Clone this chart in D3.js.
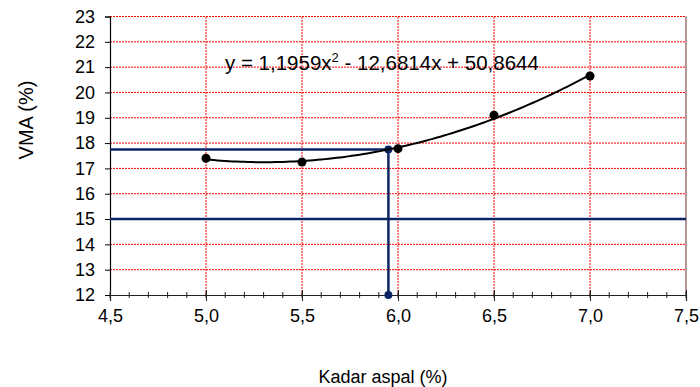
<!DOCTYPE html>
<html>
<head>
<meta charset="utf-8">
<script src="https://cdn.jsdelivr.net/npm/d3@7"></script>
<style>
  body { margin: 0; background: #fff; }
  text { font-family: "Liberation Sans", Arial, sans-serif; fill: #000; }
</style>
</head>
<body>
<div id="chart"></div>
<script>
// data
var kadar = [5.0, 5.5, 6.0, 6.5, 7.0];
var vma = [17.4, 17.25, 17.78, 19.1, 20.65];
var trendCoef = [1.1959, -12.6814, 50.8644];   // a x^2 + b x + c
var vmaMin = 15;
var optKadar = 5.95, optVma = 17.75;
var xTicks = [4.5, 5.0, 5.5, 6.0, 6.5, 7.0, 7.5];
var yTicks = [12, 13, 14, 15, 16, 17, 18, 19, 20, 21, 22, 23];

var w = 700, h = 387;
var svg = d3.select("#chart").append("svg").attr("width", w).attr("height", h);

var x = d3.scaleLinear().domain([4.5, 7.5]).range([110, 686]);
var y = d3.scaleLinear().domain([12, 23]).range([295, 16.5]);

var fmt = function(d) { return d3.format(".1f")(d).replace(".", ","); };

// red dotted grid
var grid = svg.append("g");
grid.selectAll("line.h").data(yTicks.slice(1)).enter().append("line")
    .attr("x1", x(4.5)).attr("x2", x(7.5))
    .attr("y1", function(d) { return y(d); }).attr("y2", function(d) { return y(d); })
    .attr("stroke", "#ff0000").attr("stroke-width", 1).attr("stroke-dasharray", "2,1");
grid.selectAll("line.v").data(xTicks.slice(1)).enter().append("line")
    .attr("y1", y(12)).attr("y2", y(23))
    .attr("x1", function(d) { return x(d); }).attr("x2", function(d) { return x(d); })
    .attr("stroke", function(d) { return d == 7.5 ? "#6b2b2b" : "#ff0000"; })
    .attr("stroke-width", 1)
    .attr("stroke-dasharray", function(d) { return d == 7.5 ? null : "2,1"; });

// axes
var yAxis = d3.axisLeft(y).tickValues(yTicks).tickSize(5).tickPadding(10).tickFormat(d3.format("d"));
var gy = svg.append("g").attr("transform", "translate(" + x(4.5) + ",0)").call(yAxis);
gy.select(".domain").attr("stroke", "#000").attr("stroke-width", 1.2);
gy.selectAll(".tick line").attr("stroke", "#000");
gy.selectAll(".tick text").attr("font-size", 18).attr("font-family", "Liberation Sans, Arial, sans-serif");

var minor = d3.range(45, 76).map(function(d) { return d / 10; });
var gxm = svg.append("g").attr("transform", "translate(0," + y(12) + ")");
gxm.selectAll("line").data(minor).enter().append("line")
    .attr("x1", function(d) { return x(d); }).attr("x2", function(d) { return x(d); })
    .attr("y1", -3).attr("y2", 3).attr("stroke", "#222");

var xAxis = d3.axisBottom(x).tickValues(xTicks).tickSize(6).tickPadding(8).tickFormat(fmt);
var gx = svg.append("g").attr("transform", "translate(0," + y(12) + ")").call(xAxis);
gx.select(".domain").attr("stroke", "#222").attr("stroke-width", 1.2);
gx.selectAll(".tick line").attr("y1", -5).attr("stroke", "#222");
gx.selectAll(".tick text").attr("font-size", 18).attr("font-family", "Liberation Sans, Arial, sans-serif");

// blue reference lines
var navy = "#0b2463";
svg.append("line").attr("x1", x(4.5)).attr("x2", x(7.5)).attr("y1", y(vmaMin)).attr("y2", y(vmaMin))
    .attr("stroke", navy).attr("stroke-width", 2.5);
svg.append("line").attr("x1", x(4.5)).attr("x2", x(optKadar)).attr("y1", y(optVma)).attr("y2", y(optVma))
    .attr("stroke", navy).attr("stroke-width", 2.5);
svg.append("line").attr("x1", x(optKadar)).attr("x2", x(optKadar)).attr("y1", y(optVma)).attr("y2", y(12))
    .attr("stroke", navy).attr("stroke-width", 2.5);
svg.selectAll("circle.opt").data([optVma, 12]).enter().append("circle")
    .attr("cx", x(optKadar)).attr("cy", function(d) { return y(d); }).attr("r", 4).attr("fill", navy);

// polynomial trendline
var trend = d3.range(kadar[0], kadar[kadar.length - 1] + 0.001, 0.02).map(function(k) {
  return [k, trendCoef[0] * k * k + trendCoef[1] * k + trendCoef[2]];
});
svg.append("path").datum(trend)
    .attr("d", d3.line().x(function(d) { return x(d[0]); }).y(function(d) { return y(d[1]); }))
    .attr("fill", "none").attr("stroke", "#000").attr("stroke-width", 2);

// data points
svg.selectAll("circle.pt").data(kadar).enter().append("circle")
    .attr("cx", function(d) { return x(d); })
    .attr("cy", function(d, i) { return y(vma[i]); })
    .attr("r", 4.5).attr("fill", "#000");

// equation
var eq = svg.append("text").attr("x", 225).attr("y", 70).attr("font-size", 20.5);
eq.append("tspan").text("y = 1,1959x");
eq.append("tspan").attr("dy", -8).attr("font-size", 13).text("2");
eq.append("tspan").attr("dy", 8).text(" - 12,6814x + 50,8644");

// axis titles
svg.append("text").attr("x", 383).attr("y", 383).attr("text-anchor", "middle")
    .attr("font-size", 18).text("Kadar aspal (%)");
svg.append("text").attr("transform", "translate(33,120) rotate(-90)").attr("text-anchor", "middle")
    .attr("font-size", 20).text("VMA (%)");
</script>
</body>
</html>
